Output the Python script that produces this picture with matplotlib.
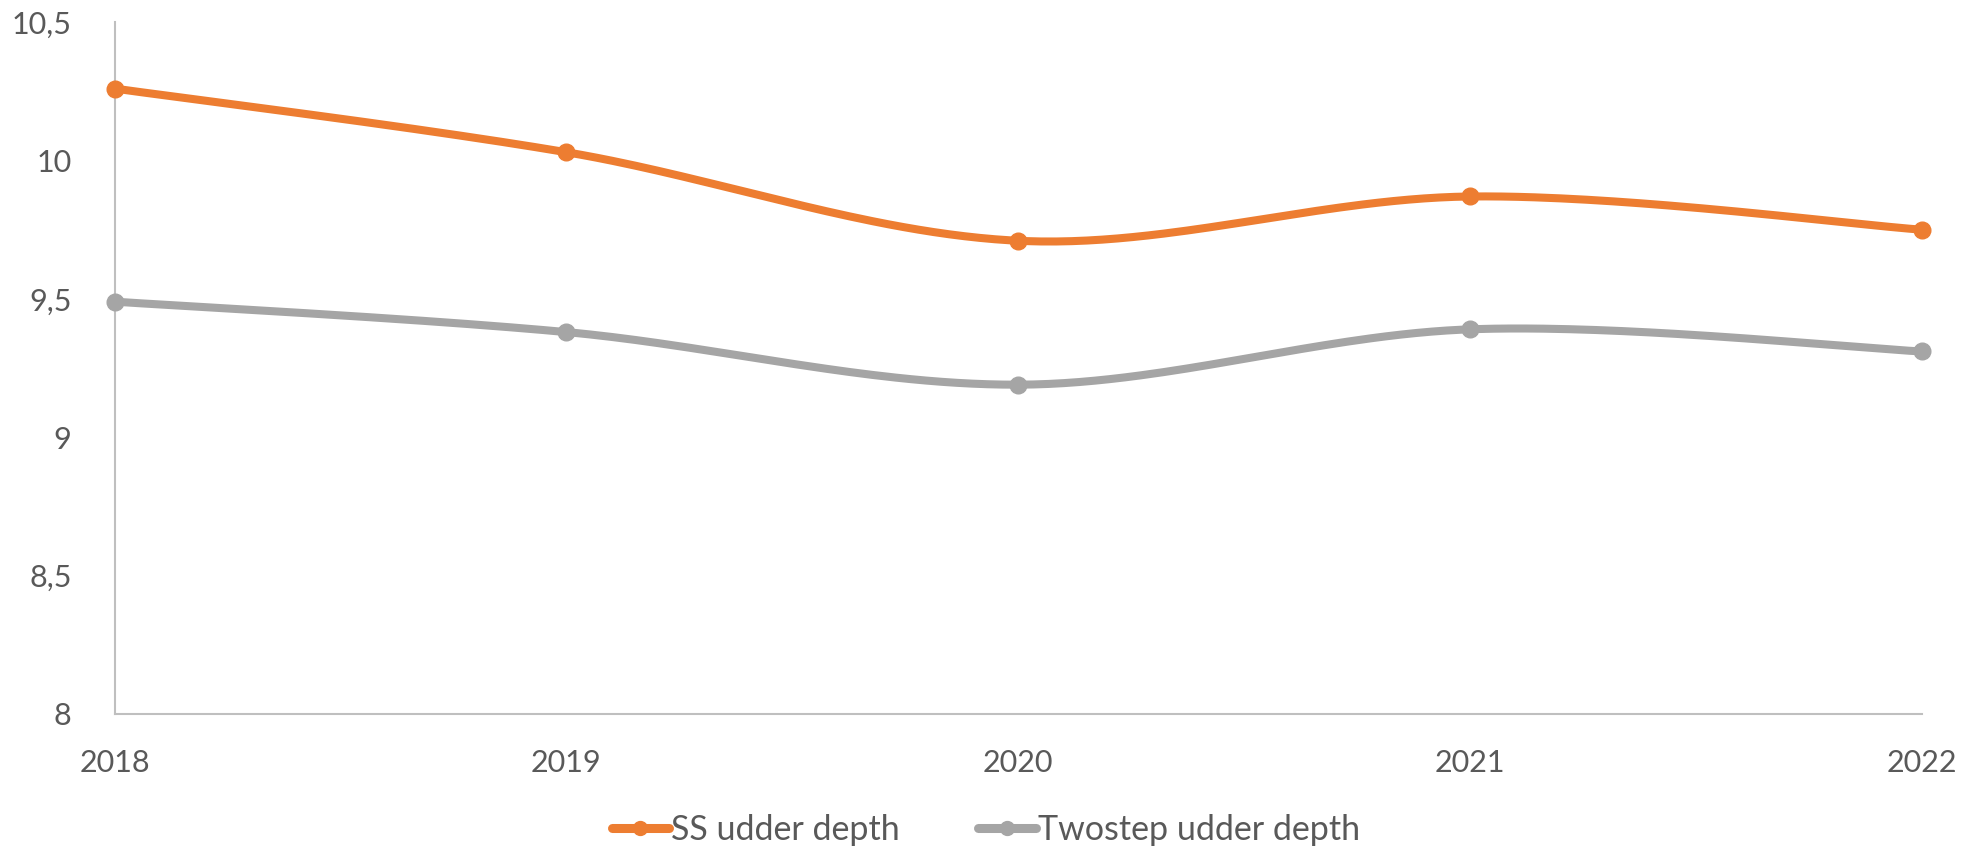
import numpy as np
import matplotlib
matplotlib.use("Agg")
import matplotlib.pyplot as plt
from matplotlib.lines import Line2D
from matplotlib.ticker import FuncFormatter

plt.rcParams['font.family'] = ['Lato', 'DejaVu Sans']

years = [2018, 2019, 2020, 2021, 2022]
ss_udder_depth = [10.26, 10.03, 9.71, 9.87, 9.75]
twostep_udder_depth = [9.49, 9.38, 9.19, 9.39, 9.31]
series_names = ["SS udder depth", "Twostep udder depth"]
colors = ["#ED7D31", "#A5A5A5"]
y_ticks = [8, 8.5, 9, 9.5, 10, 10.5]


def smooth(xs, ys, n=60):
    xs = np.asarray(xs, float)
    ys = np.asarray(ys, float)
    P = np.column_stack([xs, ys])
    Pe = np.vstack([P[0], P, P[-1]])
    out = []
    t = np.linspace(0, 1, n)[:, None]
    for i in range(len(P) - 1):
        p0, p3 = Pe[i + 1], Pe[i + 2]
        c1 = p0 + (Pe[i + 2] - Pe[i]) / 6.0
        c2 = p3 - (Pe[i + 3] - Pe[i + 1]) / 6.0
        seg = ((1 - t) ** 3) * p0 + 3 * ((1 - t) ** 2) * t * c1 + 3 * (1 - t) * t ** 2 * c2 + t ** 3 * p3
        out.append(seg if i == 0 else seg[1:])
    arr = np.vstack(out)
    return arr[:, 0], arr[:, 1]


fig = plt.figure(figsize=(19.72, 8.52), dpi=100)
ax = fig.add_axes([0.0581, 0.162, 0.9164, 0.812])

handles = []
for vals, name, col in zip([ss_udder_depth, twostep_udder_depth], series_names, colors):
    sx, sy = smooth(years, vals)
    ax.plot(sx, sy, color=col, lw=5.8, solid_capstyle='round', clip_on=False, zorder=3)
    ax.plot(years, vals, 'o', color=col, ms=12, clip_on=False, zorder=4)
    handles.append(Line2D([0], [0], color=col, lw=6.5, marker='o', ms=10,
                          solid_capstyle='round', label=name))

ax.set_xlim(2018, 2022)
ax.set_ylim(8, 10.5)
ax.set_xticks(years)
ax.set_yticks(y_ticks)
ax.yaxis.set_major_formatter(FuncFormatter(lambda v, p: f"{v:g}".replace('.', ',')))

for s in ['top', 'right']:
    ax.spines[s].set_visible(False)
for s in ['left', 'bottom']:
    ax.spines[s].set_color('#BFBFBF')
    ax.spines[s].set_linewidth(1.5)

ax.tick_params(axis='both', length=0, labelsize=22, labelcolor='#595959')
ax.tick_params(axis='y', pad=31)
ax.tick_params(axis='x', pad=25)

leg = fig.legend(handles=handles, loc='center', bbox_to_anchor=(0.5, 1 - 830 / 852),
                 ncol=2, frameon=False, fontsize=24.5, handlelength=1.7,
                 handletextpad=0.06, columnspacing=2.3, labelcolor='#595959')

fig.savefig("out.png", dpi=100)
